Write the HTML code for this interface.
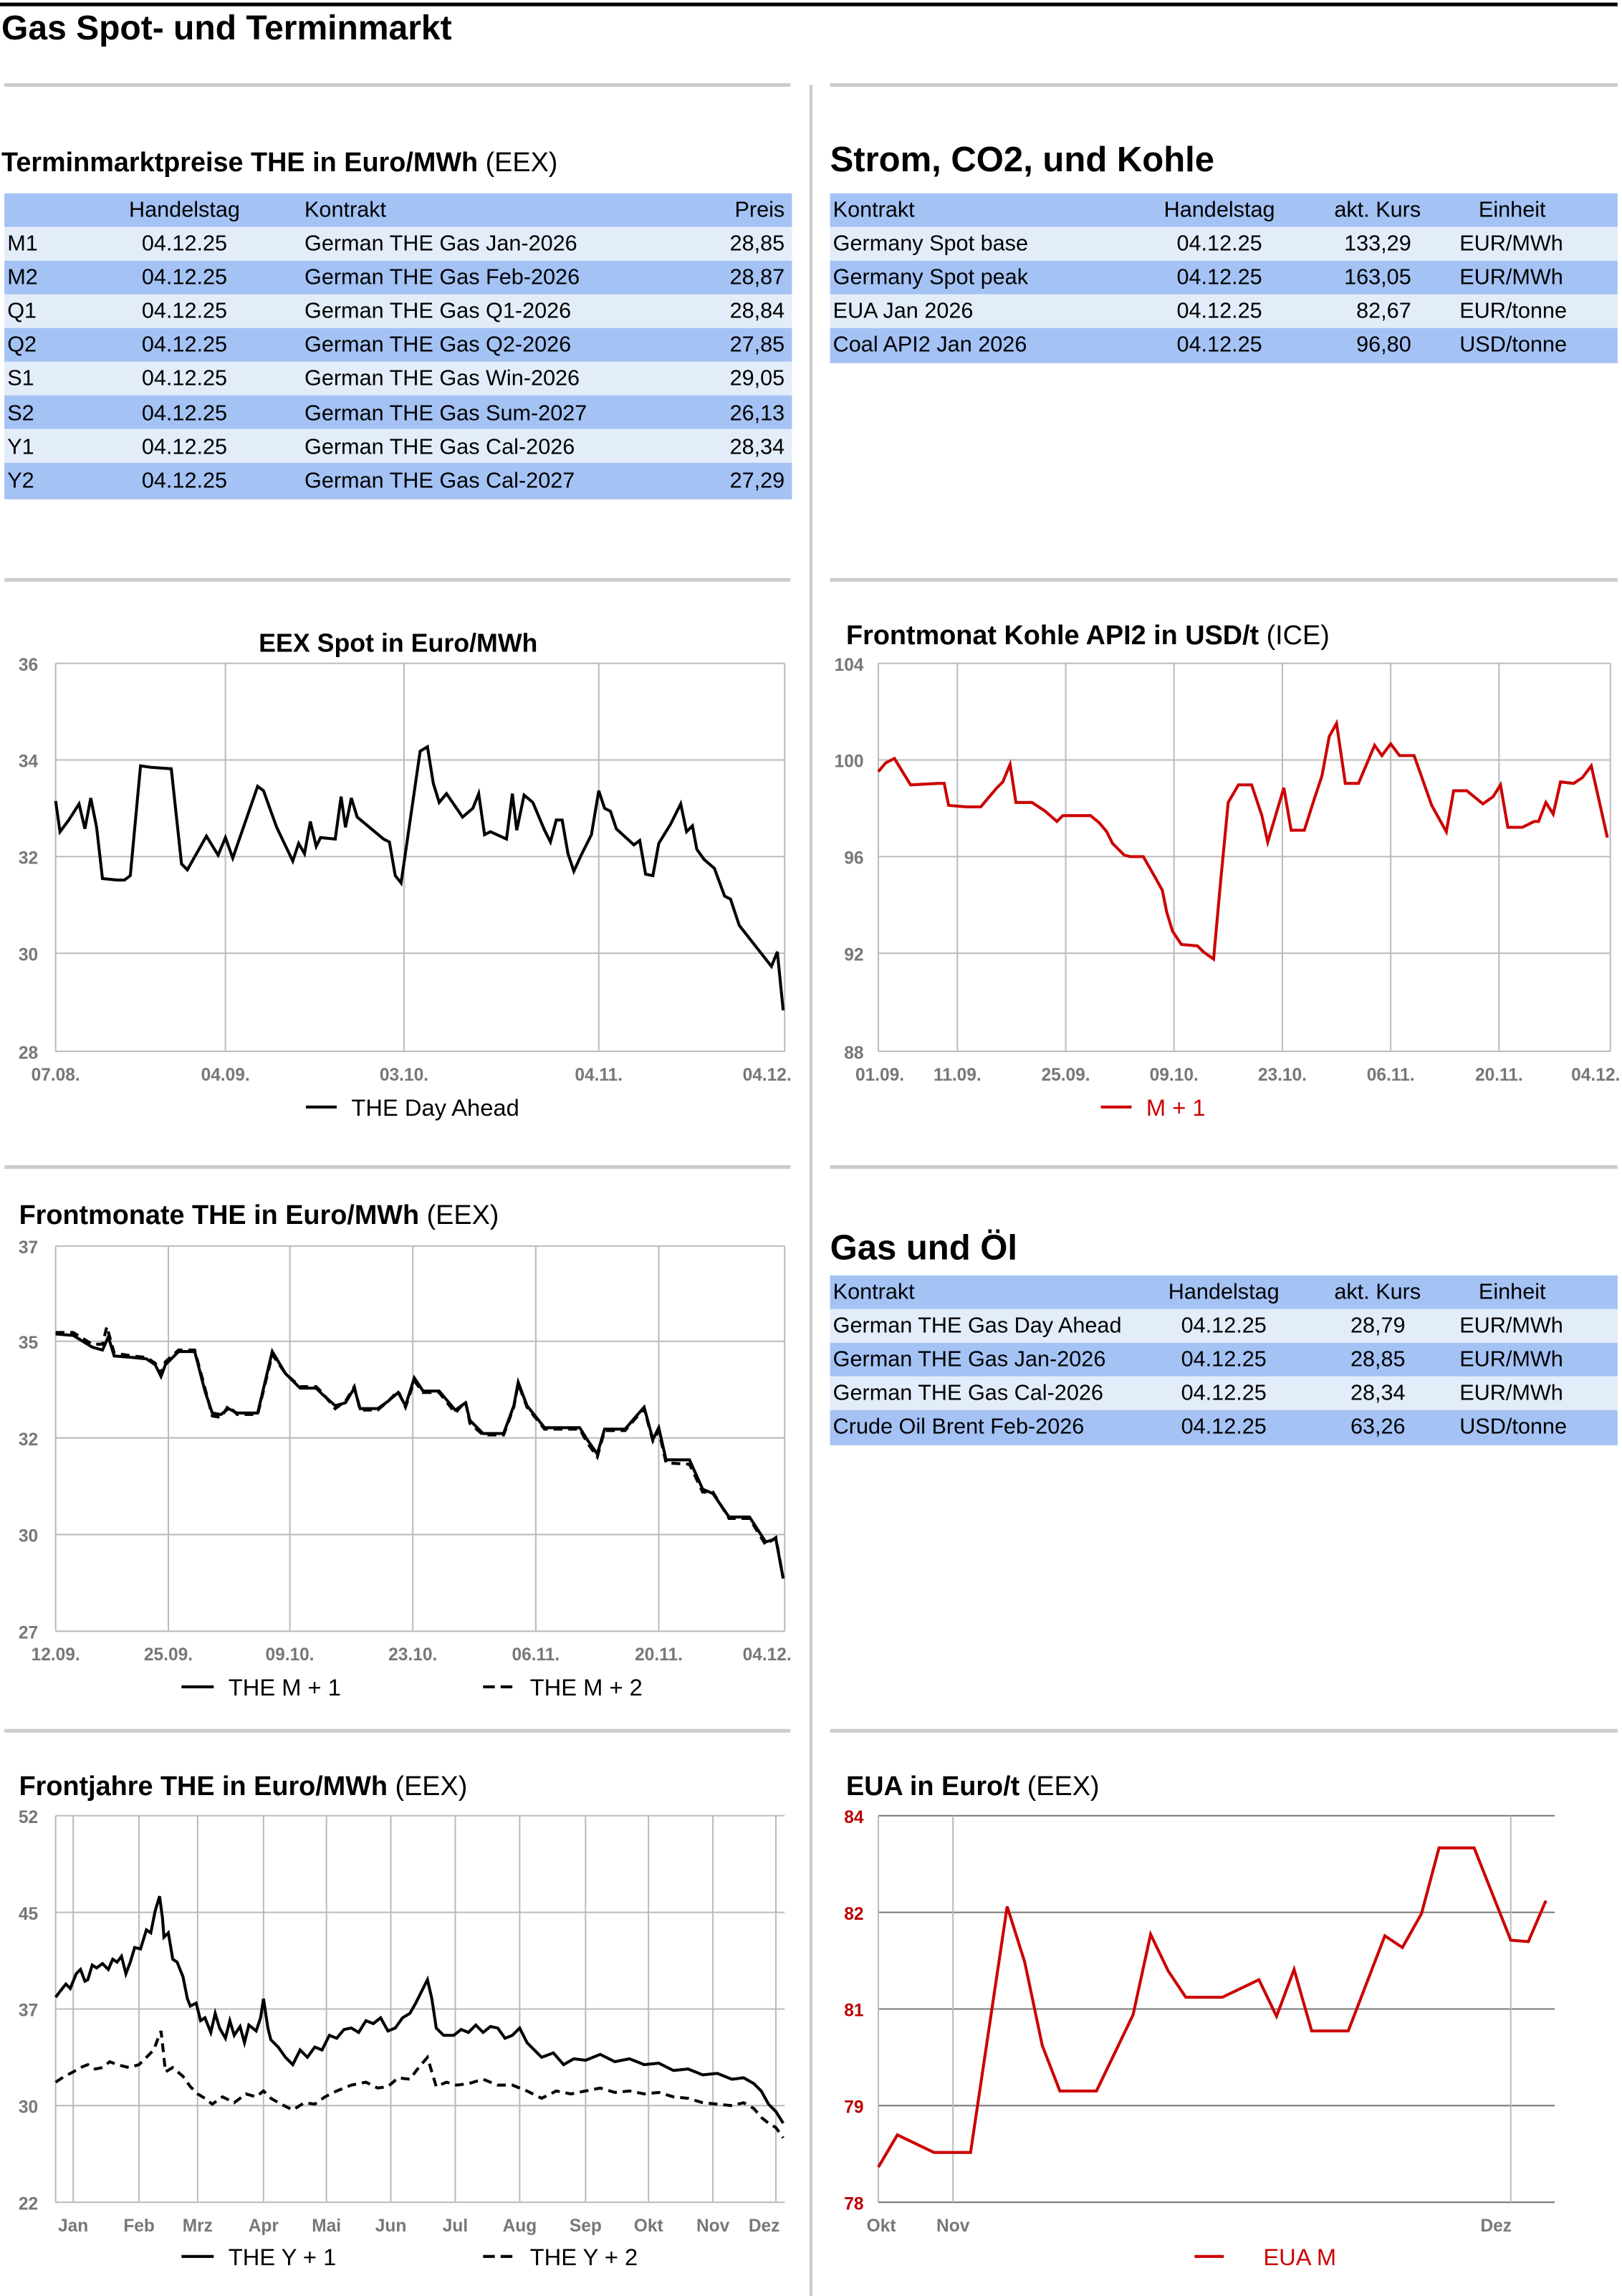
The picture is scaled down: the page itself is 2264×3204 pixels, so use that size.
<!DOCTYPE html>
<html><head><meta charset="utf-8"><style>
html,body{margin:0;padding:0;background:#fff}
svg{display:block}
text{font-family:"Liberation Sans",Arial,sans-serif;fill:#000}
.t{font-size:15px}
.b{font-weight:bold}
.ax{font-size:12px;fill:#777;font-weight:bold}
.g{stroke:#bbb;stroke-width:1}
</style></head><body>
<svg width="2264" height="3204" viewBox="0 0 1108 1568" xmlns="http://www.w3.org/2000/svg">
<rect width="1108" height="1568" fill="#fff"/>
<line x1="0" y1="3" x2="1105" y2="3" stroke="#000" stroke-width="2.5"/>
<text x="1" y="27" font-size="23.5" class="b">Gas Spot- und Terminmarkt</text>
<g stroke="#ccc" stroke-width="2.5">
<line x1="3" y1="58" x2="540" y2="58"/><line x1="567" y1="58" x2="1105" y2="58"/>
<line x1="3" y1="396" x2="540" y2="396"/><line x1="567" y1="396" x2="1105" y2="396"/>
<line x1="3" y1="797" x2="540" y2="797"/><line x1="567" y1="797" x2="1105" y2="797"/>
<line x1="3" y1="1182" x2="540" y2="1182"/><line x1="567" y1="1182" x2="1105" y2="1182"/>
</g>
<line x1="554" y1="58" x2="554" y2="1568" stroke="#ccc" stroke-width="2"/>

<text x="1" y="117" font-size="18.5"><tspan class="b">Terminmarktpreise THE in Euro/MWh</tspan> (EEX)</text>
<g>
<rect x="3" y="132" width="538" height="23" fill="#a4c2f4"/>
<rect x="3" y="155" width="538" height="23" fill="#e3ecf9"/>
<rect x="3" y="178" width="538" height="23" fill="#a4c2f4"/>
<rect x="3" y="201" width="538" height="23" fill="#e3ecf9"/>
<rect x="3" y="224" width="538" height="23" fill="#a4c2f4"/>
<rect x="3" y="247" width="538" height="23" fill="#e3ecf9"/>
<rect x="3" y="270" width="538" height="23" fill="#a4c2f4"/>
<rect x="3" y="293" width="538" height="23" fill="#e3ecf9"/>
<rect x="3" y="316" width="538" height="25" fill="#a4c2f4"/>
</g>
<g class="t">
<text x="126" y="148" text-anchor="middle" class="t">Handelstag</text><text x="208" y="148" class="t">Kontrakt</text><text x="536" y="148" text-anchor="end" class="t">Preis</text>
<text x="5" y="171" class="t">M1</text><text x="126" y="171" text-anchor="middle" class="t">04.12.25</text><text x="208" y="171" class="t">German THE Gas Jan-2026</text><text x="536" y="171" text-anchor="end" class="t">28,85</text>
<text x="5" y="194" class="t">M2</text><text x="126" y="194" text-anchor="middle" class="t">04.12.25</text><text x="208" y="194" class="t">German THE Gas Feb-2026</text><text x="536" y="194" text-anchor="end" class="t">28,87</text>
<text x="5" y="217" class="t">Q1</text><text x="126" y="217" text-anchor="middle" class="t">04.12.25</text><text x="208" y="217" class="t">German THE Gas Q1-2026</text><text x="536" y="217" text-anchor="end" class="t">28,84</text>
<text x="5" y="240" class="t">Q2</text><text x="126" y="240" text-anchor="middle" class="t">04.12.25</text><text x="208" y="240" class="t">German THE Gas Q2-2026</text><text x="536" y="240" text-anchor="end" class="t">27,85</text>
<text x="5" y="263" class="t">S1</text><text x="126" y="263" text-anchor="middle" class="t">04.12.25</text><text x="208" y="263" class="t">German THE Gas Win-2026</text><text x="536" y="263" text-anchor="end" class="t">29,05</text>
<text x="5" y="287" class="t">S2</text><text x="126" y="287" text-anchor="middle" class="t">04.12.25</text><text x="208" y="287" class="t">German THE Gas Sum-2027</text><text x="536" y="287" text-anchor="end" class="t">26,13</text>
<text x="5" y="310" class="t">Y1</text><text x="126" y="310" text-anchor="middle" class="t">04.12.25</text><text x="208" y="310" class="t">German THE Gas Cal-2026</text><text x="536" y="310" text-anchor="end" class="t">28,34</text>
<text x="5" y="333" class="t">Y2</text><text x="126" y="333" text-anchor="middle" class="t">04.12.25</text><text x="208" y="333" class="t">German THE Gas Cal-2027</text><text x="536" y="333" text-anchor="end" class="t">27,29</text>
</g>

<text x="567" y="117" font-size="24" class="b">Strom, CO2, und Kohle</text>
<rect x="567" y="132" width="538" height="23" fill="#a4c2f4"/>
<rect x="567" y="155" width="538" height="23" fill="#e3ecf9"/>
<rect x="567" y="178" width="538" height="23" fill="#a4c2f4"/>
<rect x="567" y="201" width="538" height="23" fill="#e3ecf9"/>
<rect x="567" y="224" width="538" height="24" fill="#a4c2f4"/>
<text x="569" y="148" class="t">Kontrakt</text><text x="833" y="148" text-anchor="middle" class="t">Handelstag</text><text x="941" y="148" text-anchor="middle" class="t">akt. Kurs</text><text x="1033" y="148" text-anchor="middle" class="t">Einheit</text>
<text x="569" y="171" class="t">Germany Spot base</text><text x="833" y="171" text-anchor="middle" class="t">04.12.25</text><text x="964" y="171" text-anchor="end" class="t">133,29</text><text x="997" y="171" class="t">EUR/MWh</text>
<text x="569" y="194" class="t">Germany Spot peak</text><text x="833" y="194" text-anchor="middle" class="t">04.12.25</text><text x="964" y="194" text-anchor="end" class="t">163,05</text><text x="997" y="194" class="t">EUR/MWh</text>
<text x="569" y="217" class="t">EUA Jan 2026</text><text x="833" y="217" text-anchor="middle" class="t">04.12.25</text><text x="964" y="217" text-anchor="end" class="t">82,67</text><text x="997" y="217" class="t">EUR/tonne</text>
<text x="569" y="240" class="t">Coal API2 Jan 2026</text><text x="833" y="240" text-anchor="middle" class="t">04.12.25</text><text x="964" y="240" text-anchor="end" class="t">96,80</text><text x="997" y="240" class="t">USD/tonne</text>

<text x="567" y="860" font-size="24" class="b">Gas und Öl</text>
<rect x="567" y="871" width="538" height="23" fill="#a4c2f4"/>
<rect x="567" y="894" width="538" height="23" fill="#e3ecf9"/>
<rect x="567" y="917" width="538" height="23" fill="#a4c2f4"/>
<rect x="567" y="940" width="538" height="23" fill="#e3ecf9"/>
<rect x="567" y="963" width="538" height="24" fill="#a4c2f4"/>
<text x="569" y="887" class="t">Kontrakt</text><text x="836" y="887" text-anchor="middle" class="t">Handelstag</text><text x="941" y="887" text-anchor="middle" class="t">akt. Kurs</text><text x="1033" y="887" text-anchor="middle" class="t">Einheit</text>
<text x="569" y="910" class="t">German THE Gas Day Ahead</text><text x="836" y="910" text-anchor="middle" class="t">04.12.25</text><text x="960" y="910" text-anchor="end" class="t">28,79</text><text x="997" y="910" class="t">EUR/MWh</text>
<text x="569" y="933" class="t">German THE Gas Jan-2026</text><text x="836" y="933" text-anchor="middle" class="t">04.12.25</text><text x="960" y="933" text-anchor="end" class="t">28,85</text><text x="997" y="933" class="t">EUR/MWh</text>
<text x="569" y="956" class="t">German THE Gas Cal-2026</text><text x="836" y="956" text-anchor="middle" class="t">04.12.25</text><text x="960" y="956" text-anchor="end" class="t">28,34</text><text x="997" y="956" class="t">EUR/MWh</text>
<text x="569" y="979" class="t">Crude Oil Brent Feb-2026</text><text x="836" y="979" text-anchor="middle" class="t">04.12.25</text><text x="960" y="979" text-anchor="end" class="t">63,26</text><text x="997" y="979" class="t">USD/tonne</text>

<text x="272" y="445" font-size="17.5" class="b" text-anchor="middle">EEX Spot in Euro/MWh</text>
<g class="g">
<line x1="38" y1="453" x2="536" y2="453"/><line x1="38" y1="519" x2="536" y2="519"/><line x1="38" y1="585" x2="536" y2="585"/><line x1="38" y1="651" x2="536" y2="651"/><line x1="38" y1="718" x2="536" y2="718"/>
<line x1="38" y1="453" x2="38" y2="718"/><line x1="154" y1="453" x2="154" y2="718"/><line x1="276" y1="453" x2="276" y2="718"/><line x1="409" y1="453" x2="409" y2="718"/><line x1="536" y1="453" x2="536" y2="718"/>
</g>
<g class="ax" text-anchor="end"><text x="26" y="458" class="ax">36</text><text x="26" y="524" class="ax">34</text><text x="26" y="590" class="ax">32</text><text x="26" y="656" class="ax">30</text><text x="26" y="723" class="ax">28</text></g>
<text x="38" y="738" class="ax" text-anchor="middle">07.08.</text><text x="154" y="738" class="ax" text-anchor="middle">04.09.</text><text x="276" y="738" class="ax" text-anchor="middle">03.10.</text><text x="409" y="738" class="ax" text-anchor="middle">04.11.</text><text x="524" y="738" class="ax" text-anchor="middle">04.12.</text>
<polyline fill="none" stroke="#000" stroke-width="2" points="38,547 41,568 47,560 54,549 58,566 62,545 66,565 70,600 80,601 85,601 89,598 96,523 103,524 117,525 124,590 128,594 141,571 149,584 154,572 159,586 176,537 180,540 189,565 200,588 204,576 208,583 212,561 216,578 219,572 229,573 233,544 236,565 240,545 244,558 262,573 266,575 270,598 274,603 287,513 292,510 296,535 300,548 305,542 316,558 323,552 327,542 331,570 335,568 346,573 350,542 353,567 358,543 364,548 372,567 376,575 380,560 384,560 388,583 392,595 397,584 404,570 409,540 413,552 417,554 421,566 433,577 437,574 441,597 446,598 450,576 458,563 465,549 469,568 473,564 476,580 481,587 488,593 495,612 499,614 505,632 527,660 531,650 535,690"/>
<line x1="209" y1="756" x2="230" y2="756" stroke="#000" stroke-width="2"/><text x="240" y="762" font-size="16">THE Day Ahead</text>

<text x="578" y="440" font-size="18.5"><tspan class="b">Frontmonat Kohle API2 in USD/t</tspan> (ICE)</text>
<g class="g">
<line x1="600" y1="453" x2="1100" y2="453"/><line x1="600" y1="519" x2="1100" y2="519"/><line x1="600" y1="585" x2="1100" y2="585"/><line x1="600" y1="651" x2="1100" y2="651"/><line x1="600" y1="718" x2="1100" y2="718"/>
<line x1="600" y1="453" x2="600" y2="718"/><line x1="654" y1="453" x2="654" y2="718"/><line x1="728" y1="453" x2="728" y2="718"/><line x1="802" y1="453" x2="802" y2="718"/><line x1="876" y1="453" x2="876" y2="718"/><line x1="950" y1="453" x2="950" y2="718"/><line x1="1024" y1="453" x2="1024" y2="718"/><line x1="1100" y1="453" x2="1100" y2="718"/>
</g>
<text x="590" y="458" class="ax" text-anchor="end">104</text><text x="590" y="524" class="ax" text-anchor="end">100</text><text x="590" y="590" class="ax" text-anchor="end">96</text><text x="590" y="656" class="ax" text-anchor="end">92</text><text x="590" y="723" class="ax" text-anchor="end">88</text>
<text x="601" y="738" class="ax" text-anchor="middle">01.09.</text><text x="654" y="738" class="ax" text-anchor="middle">11.09.</text><text x="728" y="738" class="ax" text-anchor="middle">25.09.</text><text x="802" y="738" class="ax" text-anchor="middle">09.10.</text><text x="876" y="738" class="ax" text-anchor="middle">23.10.</text><text x="950" y="738" class="ax" text-anchor="middle">06.11.</text><text x="1024" y="738" class="ax" text-anchor="middle">20.11.</text><text x="1090" y="738" class="ax" text-anchor="middle">04.12.</text>
<polyline fill="none" stroke="#cc0000" stroke-width="2" points="600,527 605,521 611,518 622,536 641,535 645,535 648,550 660,551 670,551 675,545 681,538 685,534 690,522 694,548 705,548 714,554 722,561 726,557 745,557 751,562 756,568 760,576 768,584 772,585 781,585 789,599 794,608 797,623 801,636 807,645 818,646 822,650 829,655 834,600 839,548 846,536 855,536 862,557 866,575 877,538 882,567 891,567 898,545 903,530 908,503 913,494 919,535 928,535 939,509 944,516 950,508 956,516 966,516 978,550 988,568 993,540 1002,540 1013,549 1020,544 1025,536 1030,565 1040,565 1048,561 1051,561 1056,548 1061,556 1066,534 1075,535 1081,531 1087,523 1098,572"/>
<line x1="752" y1="756" x2="773" y2="756" stroke="#cc0000" stroke-width="2"/><text x="783" y="762" font-size="16" style="fill:#cc0000">M + 1</text>

<text x="13" y="836" font-size="18.5"><tspan class="b">Frontmonate THE in Euro/MWh</tspan> (EEX)</text>
<g class="g">
<line x1="38" y1="851" x2="536" y2="851"/><line x1="38" y1="916" x2="536" y2="916"/><line x1="38" y1="982" x2="536" y2="982"/><line x1="38" y1="1048" x2="536" y2="1048"/><line x1="38" y1="1114" x2="536" y2="1114"/>
<line x1="38" y1="851" x2="38" y2="1114"/><line x1="115" y1="851" x2="115" y2="1114"/><line x1="198" y1="851" x2="198" y2="1114"/><line x1="282" y1="851" x2="282" y2="1114"/><line x1="366" y1="851" x2="366" y2="1114"/><line x1="450" y1="851" x2="450" y2="1114"/><line x1="536" y1="851" x2="536" y2="1114"/>
</g>
<text x="26" y="856" class="ax" text-anchor="end">37</text><text x="26" y="921" class="ax" text-anchor="end">35</text><text x="26" y="987" class="ax" text-anchor="end">32</text><text x="26" y="1053" class="ax" text-anchor="end">30</text><text x="26" y="1119" class="ax" text-anchor="end">27</text>
<text x="38" y="1134" class="ax" text-anchor="middle">12.09.</text><text x="115" y="1134" class="ax" text-anchor="middle">25.09.</text><text x="198" y="1134" class="ax" text-anchor="middle">09.10.</text><text x="282" y="1134" class="ax" text-anchor="middle">23.10.</text><text x="366" y="1134" class="ax" text-anchor="middle">06.11.</text><text x="450" y="1134" class="ax" text-anchor="middle">20.11.</text><text x="524" y="1134" class="ax" text-anchor="middle">04.12.</text>
<polyline fill="none" stroke="#000" stroke-width="2" stroke-dasharray="6,4" points="38,910 50,910 63,918 70,918 73,906 78,924 90,926 100,927 106,931 110,938 113,930 122,922 133,922 140,948 145,967 151,968 156,960 162,966 176,966 186,925 195,938 205,947 216,947 220,951 229,962 236,957 242,947 246,963 258,963 265,957 272,950 277,961 283,943 289,951 300,951 311,965 318,957 321,972 330,980 344,980 351,961 354,945 360,961 372,976 396,976 401,985 408,995 413,977 427,977 433,970 440,962 446,984 450,977 455,999 471,1000 480,1019 487,1019 498,1037 512,1037 523,1055 530,1050 535,1078"/>
<polyline fill="none" stroke="#000" stroke-width="2" points="38,911 50,912 63,920 70,922 74,913 78,926 90,927 100,928 106,932 110,940 113,932 122,923 133,923 140,950 145,965 151,966 156,962 162,965 176,965 186,923 195,938 205,948 216,948 220,952 229,960 236,958 242,948 246,962 258,962 265,957 272,951 277,960 283,941 289,950 300,950 311,963 318,958 321,970 330,979 344,979 351,960 354,944 360,960 372,975 396,975 401,983 408,993 413,976 427,976 433,969 440,961 446,983 450,975 455,997 471,997 480,1017 487,1020 498,1036 512,1036 523,1053 530,1051 535,1078"/>
<line x1="124" y1="1152" x2="146" y2="1152" stroke="#000" stroke-width="2"/><text x="156" y="1158" font-size="16">THE M + 1</text>
<line x1="330" y1="1152" x2="352" y2="1152" stroke="#000" stroke-width="2" stroke-dasharray="8,4"/><text x="362" y="1158" font-size="16">THE M + 2</text>

<text x="13" y="1226" font-size="18.5"><tspan class="b">Frontjahre THE in Euro/MWh</tspan> (EEX)</text>
<g class="g">
<line x1="38" y1="1240" x2="536" y2="1240"/><line x1="38" y1="1306" x2="536" y2="1306"/><line x1="38" y1="1372" x2="536" y2="1372"/><line x1="38" y1="1438" x2="536" y2="1438"/><line x1="38" y1="1504" x2="536" y2="1504"/>
<line x1="38" y1="1240" x2="38" y2="1504"/><line x1="50" y1="1240" x2="50" y2="1504"/><line x1="95" y1="1240" x2="95" y2="1504"/><line x1="135" y1="1240" x2="135" y2="1504"/><line x1="180" y1="1240" x2="180" y2="1504"/><line x1="223" y1="1240" x2="223" y2="1504"/><line x1="267" y1="1240" x2="267" y2="1504"/><line x1="311" y1="1240" x2="311" y2="1504"/><line x1="355" y1="1240" x2="355" y2="1504"/><line x1="400" y1="1240" x2="400" y2="1504"/><line x1="443" y1="1240" x2="443" y2="1504"/><line x1="487" y1="1240" x2="487" y2="1504"/><line x1="530" y1="1240" x2="530" y2="1504"/>
</g>
<text x="26" y="1245" class="ax" text-anchor="end">52</text><text x="26" y="1311" class="ax" text-anchor="end">45</text><text x="26" y="1377" class="ax" text-anchor="end">37</text><text x="26" y="1443" class="ax" text-anchor="end">30</text><text x="26" y="1509" class="ax" text-anchor="end">22</text>
<g text-anchor="middle"><text x="50" y="1524" class="ax">Jan</text><text x="95" y="1524" class="ax">Feb</text><text x="135" y="1524" class="ax">Mrz</text><text x="180" y="1524" class="ax">Apr</text><text x="223" y="1524" class="ax">Mai</text><text x="267" y="1524" class="ax">Jun</text><text x="311" y="1524" class="ax">Jul</text><text x="355" y="1524" class="ax">Aug</text><text x="400" y="1524" class="ax">Sep</text><text x="443" y="1524" class="ax">Okt</text><text x="487" y="1524" class="ax">Nov</text><text x="522" y="1524" class="ax">Dez</text></g>
<polyline fill="none" stroke="#000" stroke-width="2" points="38,1364 41,1360 45,1355 48,1358 52,1348 55,1345 58,1353 60,1352 63,1342 66,1344 70,1341 74,1345 77,1338 80,1340 83,1336 86,1348 89,1340 92,1330 96,1331 100,1318 103,1320 106,1305 109,1295 111,1310 112,1323 115,1320 118,1338 121,1340 125,1350 128,1365 130,1370 134,1368 137,1380 140,1378 144,1388 147,1375 150,1385 154,1392 157,1380 160,1390 164,1384 167,1395 170,1383 175,1387 178,1378 180,1365 183,1385 185,1393 190,1398 195,1405 200,1410 205,1400 210,1405 215,1398 220,1400 225,1390 230,1392 235,1386 240,1385 245,1388 250,1380 255,1382 260,1378 265,1387 270,1385 275,1378 280,1375 284,1368 288,1360 292,1352 295,1365 298,1385 303,1390 310,1390 315,1386 320,1388 325,1383 330,1388 335,1384 340,1385 345,1392 350,1390 355,1385 360,1395 365,1400 370,1405 378,1402 385,1410 392,1406 400,1407 410,1403 420,1408 430,1406 440,1410 450,1409 460,1414 470,1413 480,1417 490,1416 500,1420 508,1419 515,1423 520,1428 525,1437 530,1442 535,1450"/>
<polyline fill="none" stroke="#000" stroke-width="2" stroke-dasharray="6,4" points="38,1422 44,1418 50,1415 55,1412 60,1410 65,1413 70,1412 75,1408 80,1410 88,1412 95,1410 100,1405 105,1400 108,1392 110,1387 112,1405 113,1415 118,1412 125,1418 130,1425 135,1430 140,1433 145,1437 152,1432 160,1436 168,1430 175,1432 180,1428 185,1433 192,1437 200,1441 208,1436 215,1437 222,1432 230,1428 240,1424 250,1422 258,1426 265,1425 272,1419 280,1420 286,1412 292,1405 295,1415 298,1425 305,1422 312,1424 320,1423 330,1420 340,1424 350,1424 360,1428 370,1433 380,1428 390,1430 400,1428 410,1426 420,1429 430,1428 440,1430 450,1429 460,1432 470,1433 480,1436 490,1437 500,1438 508,1436 515,1440 520,1446 525,1450 530,1453 535,1460"/>
<line x1="124" y1="1541" x2="146" y2="1541" stroke="#000" stroke-width="2"/><text x="156" y="1547" font-size="16">THE Y + 1</text>
<line x1="330" y1="1541" x2="352" y2="1541" stroke="#000" stroke-width="2" stroke-dasharray="8,4"/><text x="362" y="1547" font-size="16">THE Y + 2</text>

<text x="578" y="1226" font-size="18.5"><tspan class="b">EUA in Euro/t</tspan> (EEX)</text>
<g stroke="#777" stroke-width="1">
<line x1="600" y1="1240" x2="1062" y2="1240"/><line x1="600" y1="1306" x2="1062" y2="1306"/><line x1="600" y1="1372" x2="1062" y2="1372"/><line x1="600" y1="1438" x2="1062" y2="1438"/><line x1="600" y1="1504" x2="1062" y2="1504"/>
</g>
<g class="g"><line x1="600" y1="1240" x2="600" y2="1504"/><line x1="651" y1="1240" x2="651" y2="1504"/><line x1="1032" y1="1240" x2="1032" y2="1504"/></g>
<g text-anchor="end" font-size="12" font-weight="bold"><text x="590" y="1245" style="fill:#b00">84</text><text x="590" y="1311" style="fill:#b00">82</text><text x="590" y="1377" style="fill:#b00">81</text><text x="590" y="1443" style="fill:#b00">79</text><text x="590" y="1509" style="fill:#b00">78</text></g>
<text x="602" y="1524" class="ax" text-anchor="middle">Okt</text><text x="651" y="1524" class="ax" text-anchor="middle">Nov</text><text x="1022" y="1524" class="ax" text-anchor="middle">Dez</text>
<polyline fill="none" stroke="#cc0000" stroke-width="2" points="600,1480 613,1458 638,1470 663,1470 688,1302 700,1340 712,1397 724,1428 749,1428 774,1376 786,1321 798,1346 810,1364 835,1364 860,1352 872,1377 884,1345 896,1387 921,1387 946,1322 958,1330 971,1307 983,1262 1007,1262 1032,1325 1044,1326 1056,1298"/>
<line x1="816" y1="1541" x2="836" y2="1541" stroke="#cc0000" stroke-width="2"/><text x="863" y="1547" font-size="16" style="fill:#cc0000">EUA M</text>
</svg>
</body></html>
